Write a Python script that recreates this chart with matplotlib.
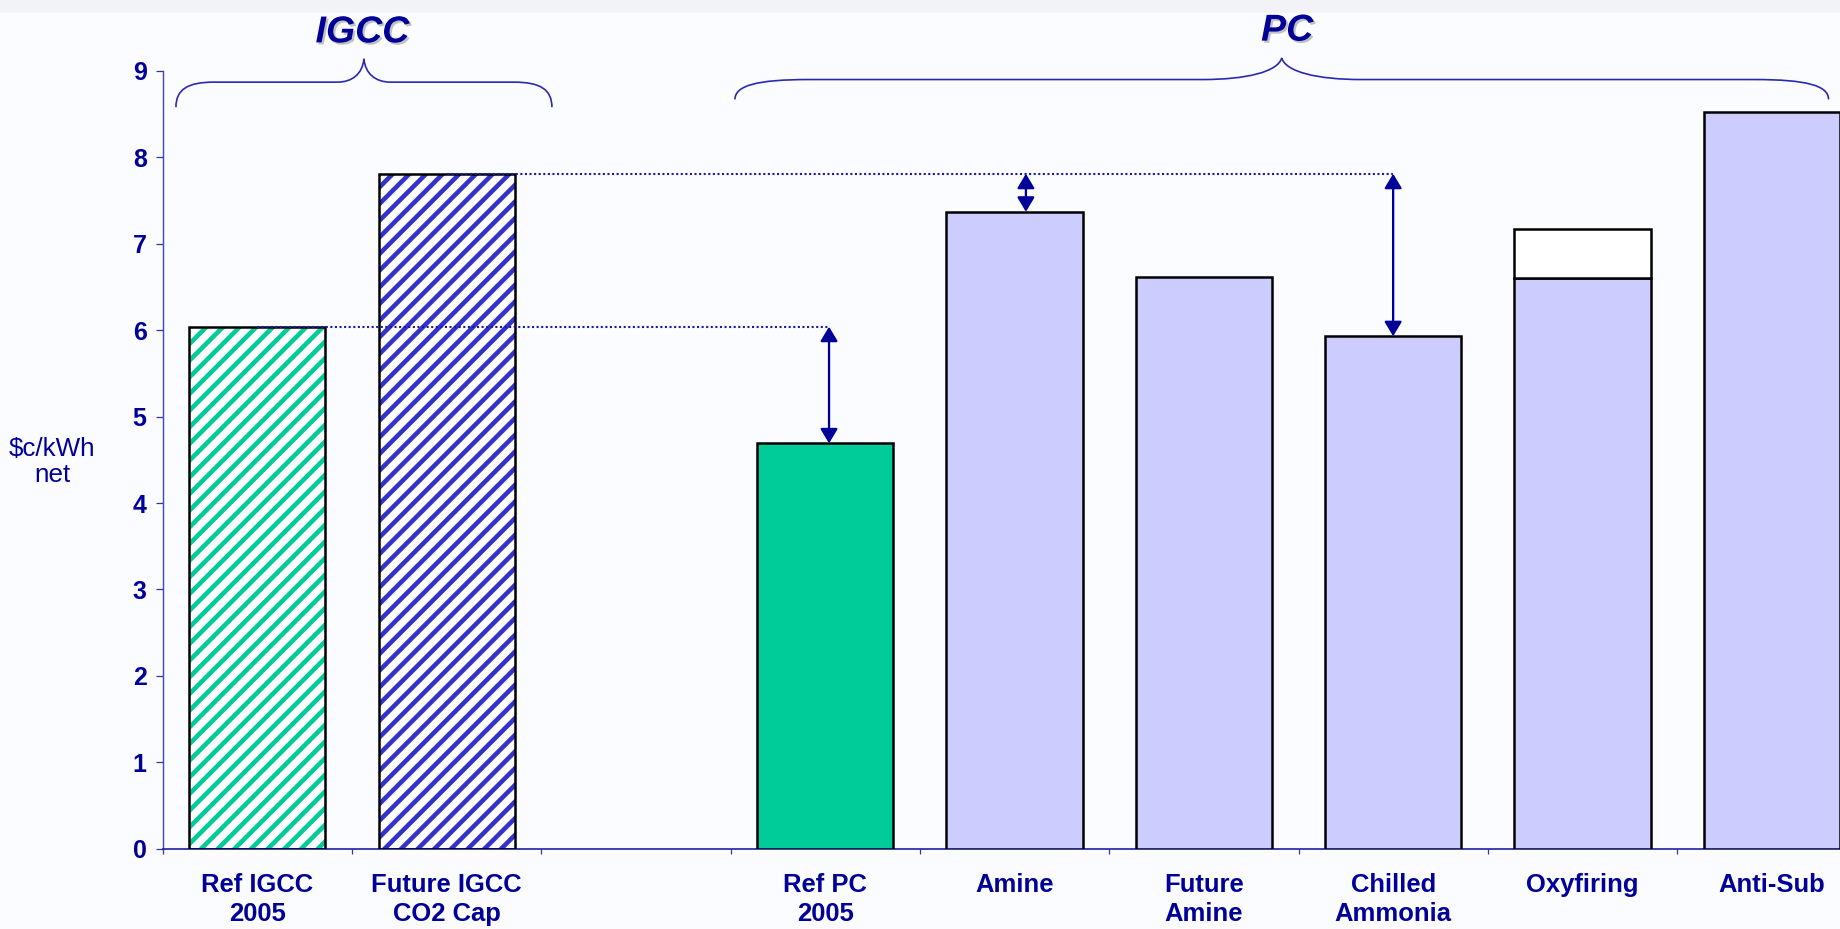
import numpy as np
import matplotlib
matplotlib.use("Agg")
import matplotlib.pyplot as plt
import matplotlib.patheffects as pe
from matplotlib.path import Path
from matplotlib.patches import PathPatch, Rectangle

# cost of electricity, $c/kWh net (slot 2 is an empty gap between groups)
categories = ["Ref IGCC\n2005", "Future IGCC\nCO2 Cap", "", "Ref PC\n2005", "Amine",
              "Future\nAmine", "Chilled\nAmmonia", "Oxyfiring", "Anti-Sub"]
cost = [6.04, 7.81, np.nan, 4.69, 7.37, 6.61, 5.93, 6.60, 8.52]
oxyfiring_high = 7.17
yticks = [0, 1, 2, 3, 4, 5, 6, 7, 8, 9]
group_names = ["IGCC", "PC"]

NAVY = "#000099"
GREEN = "#00CC99"
HATCH_BLUE = "#3333CC"
LAVENDER = "#CCCCFF"
BG = "#FBFCFF"

plt.rcParams["font.family"] = ["Liberation Sans", "DejaVu Sans"]
plt.rcParams["hatch.linewidth"] = 2.2


def draw_brace(ax, x0, x1, y_end, y_mid, y_tip, w_end, w_tip):
    xm = (x0 + x1) / 2
    verts = [
        (x0, y_end),
        (x0, y_end + 0.7 * (y_mid - y_end)), (x0 + 0.3 * w_end, y_mid), (x0 + w_end, y_mid),
        (xm - w_tip, y_mid),
        (xm - 0.45 * w_tip, y_mid), (xm - 0.05 * w_tip, y_mid + 0.35 * (y_tip - y_mid)), (xm, y_tip),
        (xm + 0.05 * w_tip, y_mid + 0.35 * (y_tip - y_mid)), (xm + 0.45 * w_tip, y_mid), (xm + w_tip, y_mid),
        (x1 - w_end, y_mid),
        (x1 - 0.3 * w_end, y_mid), (x1, y_end + 0.7 * (y_mid - y_end)), (x1, y_end),
    ]
    codes = ([Path.MOVETO] + [Path.CURVE4] * 3 + [Path.LINETO] + [Path.CURVE4] * 6
             + [Path.LINETO] + [Path.CURVE4] * 3)
    ax.add_patch(PathPatch(Path(verts, codes), fill=False, edgecolor="#2A2AB0",
                           lw=0.8, clip_on=False))


fig = plt.figure(figsize=(1840 / 150, 929 / 150), dpi=150, facecolor=BG)
fig.patches.append(Rectangle((0, 1 - 13 / 929), 1, 13 / 929, transform=fig.transFigure,
                             facecolor="#F2F3F6", edgecolor="none", zorder=-5))
ax = fig.add_axes([162.7 / 1840, 80.3 / 929, 1703.7 / 1840, 777.8 / 929])
ax.set_facecolor(BG)

x = np.arange(len(categories))
width = 0.72
idx = {c.replace("\n", " "): i for i, c in enumerate(categories)}

for i, v in enumerate(cost):
    if np.isnan(v):
        continue
    name = categories[i].replace("\n", " ")
    if name == "Ref IGCC 2005":
        ax.bar(x[i], v, width, color="white", edgecolor=GREEN, hatch="///", lw=0, zorder=2)
        ax.bar(x[i], v, width, fill=False, edgecolor="black", lw=1.2, zorder=3)
    elif name == "Future IGCC CO2 Cap":
        ax.bar(x[i], v, width, color="white", edgecolor=HATCH_BLUE, hatch="///", lw=0, zorder=2)
        ax.bar(x[i], v, width, fill=False, edgecolor="black", lw=1.2, zorder=3)
    elif name == "Ref PC 2005":
        ax.bar(x[i], v, width, color=GREEN, edgecolor="black", lw=1.2, zorder=3)
    else:
        ax.bar(x[i], v, width, color=LAVENDER, edgecolor="black", lw=1.2, zorder=3)
        if name == "Oxyfiring":
            ax.bar(x[i], oxyfiring_high - v, width, bottom=v, color="white",
                   edgecolor="black", lw=1.2, zorder=3)

# dotted reference levels and arrows showing the gap
ref_igcc = cost[idx["Ref IGCC 2005"]]
fut_igcc = cost[idx["Future IGCC CO2 Cap"]]
arrows = [("Ref PC 2005", ref_igcc, 0.02), ("Amine", fut_igcc, 0.06),
          ("Chilled Ammonia", fut_igcc, 0.0)]

ax.plot([x[idx["Ref IGCC 2005"]], x[idx["Ref PC 2005"]] + arrows[0][2]], [ref_igcc, ref_igcc],
        ls=(0, (1, 1.2)), color="#1A1AA0", lw=1.0, zorder=4)
ax.plot([x[idx["Future IGCC CO2 Cap"]], x[idx["Chilled Ammonia"]] + arrows[2][2]],
        [fut_igcc, fut_igcc], ls=(0, (1, 1.2)), color="#1A1AA0", lw=1.0, zorder=4)

for name, level, dx in arrows:
    i = idx[name]
    ax.annotate("", xy=(x[i] + dx, level), xytext=(x[i] + dx, cost[i]),
                arrowprops=dict(arrowstyle="<|-|>,head_length=0.45,head_width=0.27",
                                color=NAVY, lw=1.1, mutation_scale=13,
                                shrinkA=0, shrinkB=0), zorder=5)

ax.set_xlim(-0.5, len(categories) - 0.5)
ax.set_ylim(0, 9)
ax.set_yticks(yticks)
ax.set_yticklabels([str(t) for t in yticks], fontsize=12, fontweight="bold", color=NAVY)
ax.set_xticks(np.arange(-0.5, len(categories) - 0.5, 1))
ax.set_xticklabels([])
ax.set_xticks(x, labels=categories, minor=True)
for lab in ax.get_xticklabels(minor=True):
    lab.set_fontsize(12.3)
    lab.set_fontweight("bold")
    lab.set_color(NAVY)
    lab.set_linespacing(1.3)
ax.tick_params(axis="x", which="minor", length=0, pad=11.5)
ax.tick_params(axis="x", which="major", length=2.4, direction="out", color="#3333AA", width=0.6)
ax.tick_params(axis="y", length=3.4, direction="out", color="#3333AA", width=0.6, pad=4.3)

for side in ["top", "right"]:
    ax.spines[side].set_visible(False)
ax.spines["left"].set_color("#4848B8")
ax.spines["left"].set_linewidth(0.7)
ax.spines["bottom"].set_color("#2020A0")
ax.spines["bottom"].set_linewidth(0.8)

# group braces and titles
draw_brace(ax, -0.43, 1.556, 8.58, 8.87, 9.14, 0.2, 0.14)
draw_brace(ax, 2.523, 8.30, 8.67, 8.90, 9.15, 0.39, 0.42)
shadow = [pe.withSimplePatchShadow(offset=(1.0, -1.0), shadow_rgbFace="#999999", alpha=0.6)]
ax.text(0.555, 9.33, group_names[0], ha="center", va="baseline", fontsize=18,
        fontweight="bold", fontstyle="italic", color=NAVY, clip_on=False, path_effects=shadow)
ax.text(5.44, 9.35, group_names[1], ha="center", va="baseline", fontsize=18,
        fontweight="bold", fontstyle="italic", color=NAVY, clip_on=False, path_effects=shadow)

fig.text(52 / 1840, 1 - 462 / 929, "$c/kWh\nnet", ha="center", va="center",
         fontsize=12.5, color=NAVY, linespacing=1.15)

fig.savefig("out.png", dpi=150, facecolor=BG)
